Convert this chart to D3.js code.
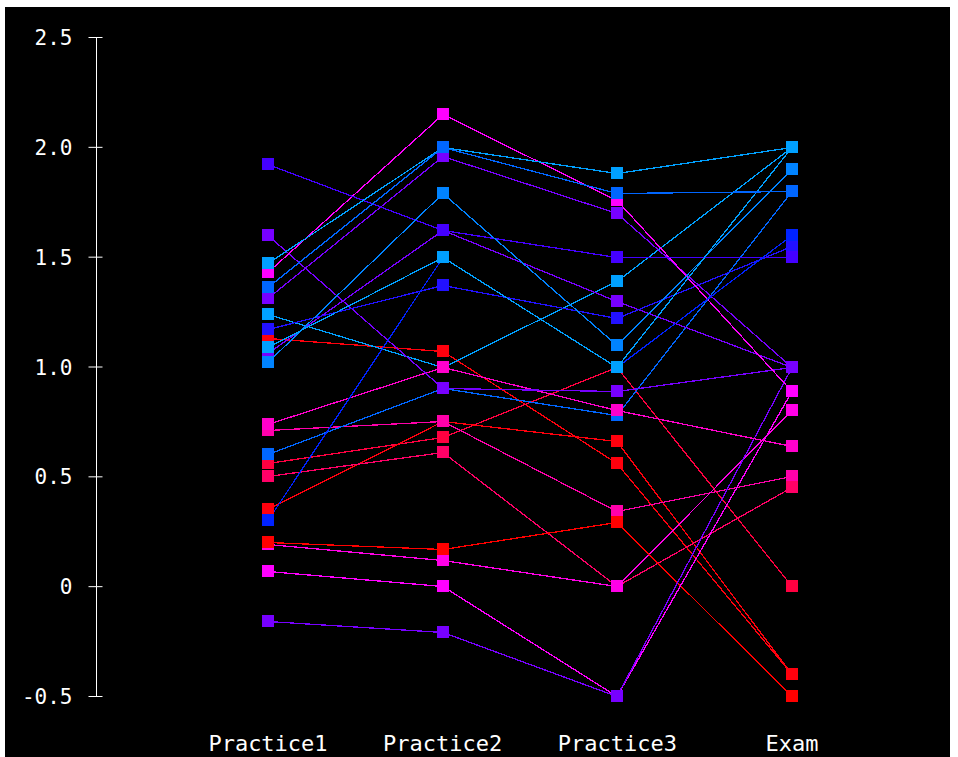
<!DOCTYPE html>
<html>
<head>
<meta charset="utf-8">
<script src="https://cdn.jsdelivr.net/npm/d3@7"></script>
<style>
  body { margin: 0; background: #fff; }
  svg { display: block; }
  text { font-family: "DejaVu Sans Mono", monospace; fill: #fff; }
</style>
</head>
<body>
<div id="chart"></div>
<script>
// tests on the x axis
const tests = ["Practice1", "Practice2", "Practice3", "Exam"];

// one entry per student, same order in every array
const practice1 = [1.13, 0.56, 0.35, 0.71, 0.50, 0.19, 0.20, 0.07, -0.16, 0.60, 1.24, 0.74, 1.60, 1.06, 1.17, 1.31, 1.43, 1.92, 1.02, 0.30, 1.09, 1.47, 1.36];
const practice2 = [1.07, 0.68, 0.75, 0.75, 0.61, 0.12, 0.17, 0.00, -0.21, 0.90, 1.00, 1.00, 0.90, 1.62, 1.37, 1.96, 2.15, 1.62, 1.79, 1.50, 1.50, 2.00, 2.00];
const practice3 = [0.56, 1.00, 0.66, 0.34, 0.00, 0.00, 0.29, -0.50, -0.50, 0.78, 1.39, 0.80, 0.89, 1.30, 1.22, 1.70, 1.76, 1.50, 1.10, 1.00, 1.00, 1.88, 1.79];
const exam      = [-0.40, 0.00, -0.40, 0.50, 0.45, 0.80, -0.50, 0.89, 1.00, 1.80, 2.00, 0.64, 1.00, 1.00, 1.55, 1.00, 0.89, 1.50, 1.90, 1.60, 2.00, 2.00, 1.80];

const yTicks = [-0.5, 0, 0.5, 1.0, 1.5, 2.0, 2.5];
const yTickLabels = ["-0.5", "0", "0.5", "1.0", "1.5", "2.0", "2.5"];

const width = 958, height = 757;

const svg = d3.select("#chart").append("svg")
    .attr("width", width)
    .attr("height", height);

svg.append("rect")
    .attr("x", 5).attr("y", 7)
    .attr("width", 945).attr("height", height - 7)
    .attr("fill", "#000");

const x = d3.scalePoint().domain(tests).range([268, 792]);
const y = d3.scaleLinear().domain([-0.5, 2.5]).range([696, 37]);

// colour follows the exam score
const color = d3.scaleLinear()
    .domain([-0.5, 0, 0.45, 0.5, 0.64, 0.8, 0.89, 1.0, 1.5, 1.6, 1.8, 2.0])
    .range(["#ff0000", "#ff0040", "#ff0066", "#ff00aa", "#ff00cc", "#ff00e6",
            "#ff00ff", "#7700ff", "#4400ff", "#0022ff", "#0066ff", "#00a0ff"]);

const students = exam.map((e, i) => ({
    values: [practice1[i], practice2[i], practice3[i], e],
    exam: e
}));

// y axis
const yAxis = d3.axisLeft(y)
    .tickValues(yTicks)
    .tickFormat((d, i) => yTickLabels[i])
    .tickSizeInner(7)
    .tickSizeOuter(0)
    .tickPadding(17);

const ya = svg.append("g")
    .attr("transform", "translate(96.5,0)")
    .call(yAxis);
ya.select(".domain").attr("stroke", "#fff").attr("d", `M0,${y(2.5)}V${y(-0.5)}`);
ya.selectAll(".tick line").attr("stroke", "#fff").attr("x1", 6).attr("x2", -8);
ya.selectAll(".tick text")
    .attr("fill", "#fff")
    .style("font-size", "21px")
    .attr("dy", "0.36em");

// category labels
svg.append("g").selectAll("text")
    .data(tests)
    .join("text")
    .attr("x", d => x(d))
    .attr("y", 751)
    .attr("text-anchor", "middle")
    .style("font-size", "22px")
    .text(d => d);

const line = d3.line()
    .x((d, i) => Math.round(x(tests[i])))
    .y(d => Math.round(y(d)) + 0.5);

svg.append("g").selectAll("path")
    .data(students)
    .join("path")
    .attr("d", d => line(d.values))
    .attr("fill", "none")
    .attr("stroke", d => color(d.exam))
    .attr("stroke-width", 1.3)
    .attr("shape-rendering", "crispEdges");

const marks = svg.append("g");
students.forEach(s => {
    marks.selectAll(null)
        .data(s.values)
        .join("rect")
        .attr("x", (d, i) => Math.round(x(tests[i])) - 6)
        .attr("y", d => Math.round(y(d)) - 6)
        .attr("width", 12)
        .attr("height", 12)
        .attr("fill", color(s.exam))
        .attr("shape-rendering", "crispEdges");
});
</script>
</body>
</html>
